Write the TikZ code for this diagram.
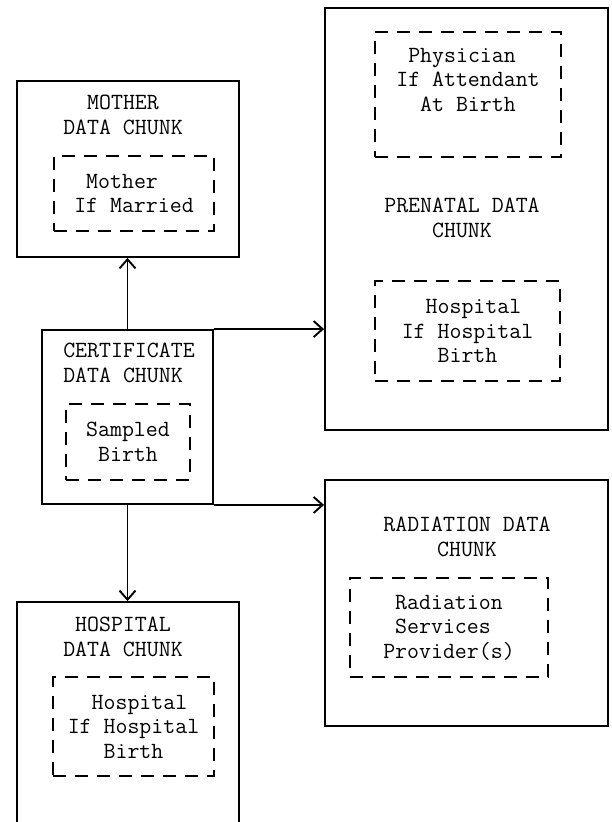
\documentclass[tikz,border=0pt]{standalone}
\usepackage{fontspec}
\usepackage{tikz}
\usetikzlibrary{arrows.meta}

\newcommand{\typer}{\ttfamily\fontsize{23.2pt}{24.5pt}\selectfont}

\begin{document}
\begin{tikzpicture}[x=1pt, y=-1pt,
    chunk/.style={draw, rectangle, line width=1.9pt, inner sep=0pt},
    record/.style={draw, rectangle, line width=1.5pt, dash pattern=on 13pt off 9pt,
                   inner sep=0pt, align=left, font=\typer},
    chunktitle/.style={inner sep=0pt, align=center, font=\typer},
    link/.style={line width=1.9pt, -{Straight Barb[length=9pt, width=16pt]}}]
      \useasboundingbox (0, 0) rectangle (611, 822);
      \clip (0, 0) rectangle (611, 822);
      % left column
      \node[chunk, minimum width=222pt, minimum height=176pt] (mother) at (128, 169) {};
      \node[chunktitle] (mothertitle) at (123, 115) {MOTHER\\DATA CHUNK};
      \node[record, minimum width=160pt, minimum height=75pt] (motherrec)
        at (134, 193.5) {\ Mother\\If Married};
      \node[chunk, minimum width=171pt, minimum height=174pt] (cert) at (127.5, 417) {};
      \node[chunktitle, align=left] (certtitle) at (129, 363) {CERTIFICATE\\DATA CHUNK};
      \node[record, align=center, minimum width=124pt, minimum height=76pt] (certrec)
        at (128, 442) {Sampled\\Birth};
      \node[chunk, minimum width=222pt, minimum height=240pt] (hospital) at (128, 722) {};
      \node[chunktitle] (hospitaltitle) at (123, 637) {HOSPITAL\\DATA CHUNK};
      \node[record, minimum width=161pt, minimum height=99pt] (hospitalrec)
        at (133.5, 726.5) {\ \ Hospital\\If Hospital\\\ \ \ Birth};
      % right column
      \node[chunk, minimum width=283pt, minimum height=422pt] (prenatal) at (466.5, 219) {};
      \node[record, minimum width=186pt, minimum height=125pt] (physrec)
        at (468, 94.5) {\ Physician\\If Attendant\\\ \ At Birth\\[5pt]\mbox{}};
      \node[chunktitle] (prenataltitle) at (462, 218) {PRENATAL DATA\\CHUNK};
      \node[record, minimum width=185pt, minimum height=100pt] (prenatalrec)
        at (467.5, 331) {\ \ Hospital\\If Hospital\\\ \ \ Birth};
      \node[chunk, minimum width=283pt, minimum height=246pt] (radiation) at (466.5, 603) {};
      \node[chunktitle] (radiationtitle) at (467, 537) {RADIATION DATA\\CHUNK};
      \node[record, minimum width=198pt, minimum height=99pt] (radiationrec)
        at (449, 627.5) {\ Radiation\\\ Services\\Provider(s)};
      % links out of the certificate chunk
      \draw[link] (cert.north) -- (cert.north |- mother.south);
      \draw[link] (cert.south) -- (cert.south |- hospital.north);
      \draw[link] (cert.north east) -- (cert.north east -| prenatal.west);
      \draw[link] (cert.south east) -- (cert.south east -| radiation.west);
\end{tikzpicture}
\end{document}
